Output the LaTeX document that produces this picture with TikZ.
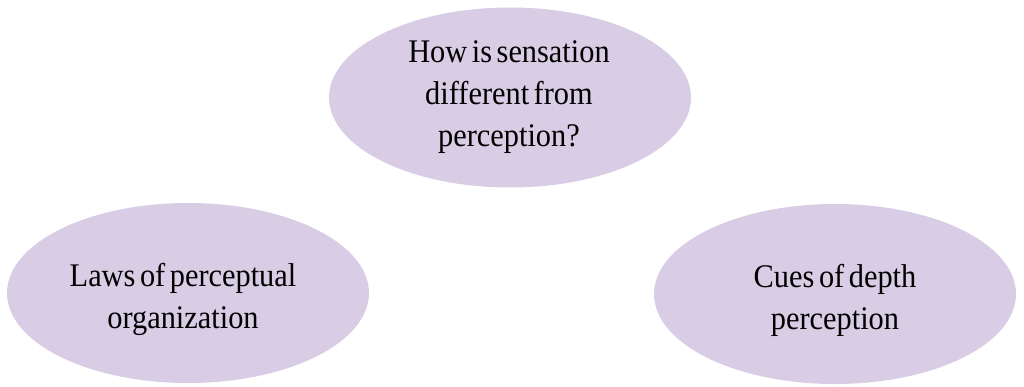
\documentclass[tikz,border=0pt]{standalone}
\usepackage{fontspec}
\setmainfont{Liberation Serif}[FakeStretch=0.92,WordSpace=0.6]
\usetikzlibrary{shapes.geometric}
\definecolor{bubble}{RGB}{216,205,229}
\tikzset{
  bubblenode/.style={ellipse, fill=bubble, draw=none, minimum width=362pt, minimum height=180pt,
    inner sep=0pt},
  bubbletext/.style={inner sep=0pt, align=center, text=black, font=\fontsize{33}{42}\selectfont}
}
\begin{document}
\begin{tikzpicture}[x=1pt,y=1pt]
\useasboundingbox (0,0) rectangle (1024,-386);
\node[bubblenode] (top) at (510,-97.5) {};
\node[bubblenode] (left) at (188,-293) {};
\node[bubblenode] (right) at (835,-294) {};
\node[bubbletext] (toptext) at ([xshift=-1pt]top.center) {How is sensation\\different from\\perception?};
\node[bubbletext] (lefttext) at ([xshift=-5pt,yshift=-6pt]left.center) {Laws of perceptual\\organization};
\node[bubbletext] (righttext) at ([yshift=-6pt]right.center) {Cues of depth\\perception};
\end{tikzpicture}
\end{document}
